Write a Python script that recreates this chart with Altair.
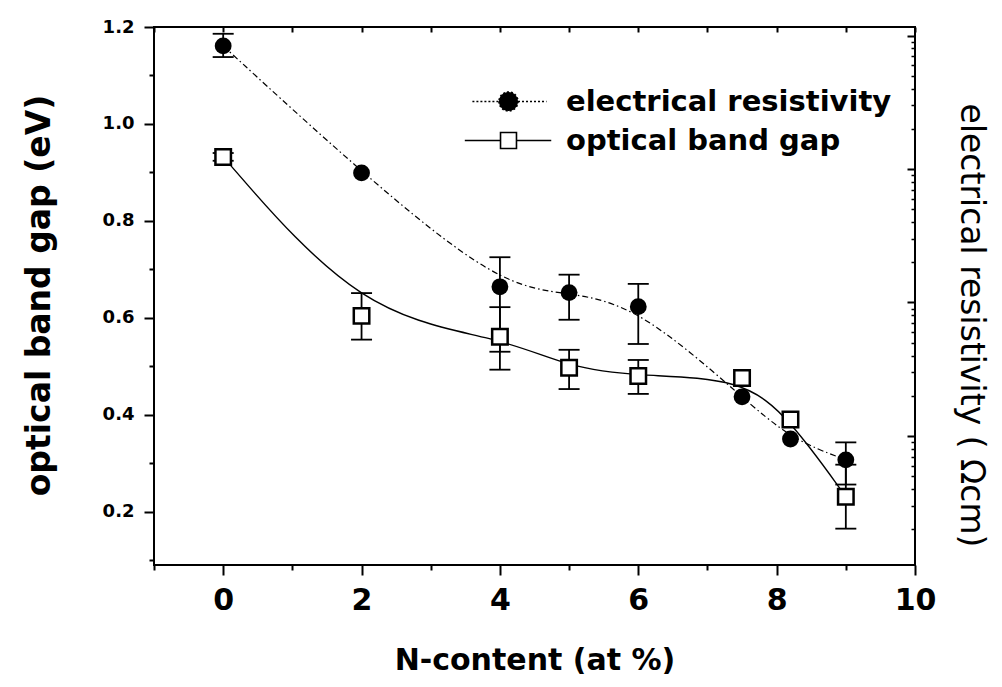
import altair as alt
import pandas as pd

# ---------------- data ----------------
series_names = ["electrical resistivity", "optical band gap"]

x_res = [0, 2, 4, 5, 6, 7.5, 8.2, 9]
resistivity = [1.161, 0.899, 0.664, 0.652, 0.623, 0.437, 0.350, 0.307]   # drawn in left-axis units

x_gap = [0, 2, 4, 5, 6, 7.5, 8.2, 9]
band_gap = [0.932, 0.604, 0.561, 0.497, 0.480, 0.476, 0.390, 0.231]

res_err_x = [0, 4, 5, 6, 9]
res_err_lo = [1.138, 0.530, 0.596, 0.546, 0.256]
res_err_hi = [1.186, 0.725, 0.689, 0.670, 0.343]

gap_err_x = [0, 2, 4, 5, 6, 9]
gap_err_lo = [0.924, 0.555, 0.493, 0.453, 0.443, 0.165]
gap_err_hi = [0.940, 0.651, 0.622, 0.534, 0.513, 0.297]

x_major = [0, 2, 4, 6, 8, 10]
x_minor = [-1, 1, 3, 5, 7, 9]
x_top = [-1, 0, 1, 2, 3, 4, 5, 6, 7, 8, 9, 10]
y_major = [0.2, 0.4, 0.6, 0.8, 1.0, 1.2]
y_minor = [0.1, 0.3, 0.5, 0.7, 0.9, 1.1]
r_major = [100, 1000, 10000, 100000]
r_minor = [m * d for d in [10, 100, 1000, 10000] for m in range(2, 10)]

X_DOM = [-1, 10]
Y_DOM = [0.09, 1.2]
R_DOM = [10.8, 115800]

W, H = 761, 538
FONT = "DejaVu Sans"

xs = alt.Scale(domain=X_DOM, nice=False, zero=False)
ys = alt.Scale(domain=Y_DOM, nice=False, zero=False)
rs = alt.Scale(type="log", domain=R_DOM, nice=False)

res_df = pd.DataFrame({"x": x_res, "y": resistivity})
gap_df = pd.DataFrame({"x": x_gap, "y": band_gap})
err_df = pd.DataFrame({"x": res_err_x + gap_err_x,
                       "lo": res_err_lo + gap_err_lo,
                       "hi": res_err_hi + gap_err_hi})
caps_df = pd.DataFrame({"x": (res_err_x + gap_err_x) * 2,
                        "y": res_err_lo + gap_err_lo + res_err_hi + gap_err_hi})


def X():
    return alt.X("x:Q", scale=xs, axis=None)


def Y(f="y"):
    return alt.Y(f"{f}:Q", scale=ys, axis=None)


gap_line = alt.Chart(gap_df).mark_line(
    interpolate="basis", color="black", strokeWidth=1.4
).encode(x=X(), y=Y())

res_line = alt.Chart(res_df).mark_line(
    interpolate="basis", color="black", strokeWidth=1.2, strokeDash=[6, 3, 1.5, 3]
).encode(x=X(), y=Y())

err_rule = alt.Chart(err_df).mark_rule(color="black", strokeWidth=1.8).encode(
    x=X(), y=Y("lo"), y2=alt.Y2("hi:Q")
)

err_caps = alt.Chart(caps_df).mark_tick(
    orient="horizontal", color="black", size=21, thickness=1.8, opacity=1
).encode(x=X(), y=Y())

gap_pts = alt.Chart(gap_df).mark_point(
    shape="square", size=240, filled=True, fill="white", stroke="black",
    strokeWidth=2.5, opacity=1
).encode(x=X(), y=Y())

res_pts = alt.Chart(res_df).mark_circle(size=283, color="black", opacity=1).encode(
    x=X(), y=Y()
)


# ---------------- axes (carried by invisible layers) ----------------
def x_axis_layer(vals, axis):
    return alt.Chart(pd.DataFrame({"v": vals})).mark_point(opacity=0).encode(
        x=alt.X("v:Q", scale=xs, axis=axis)
    )


def y_axis_layer(vals, axis, scale):
    return alt.Chart(pd.DataFrame({"v": vals})).mark_point(opacity=0).encode(
        y=alt.Y("v:Q", scale=scale, axis=axis)
    )


common = dict(domain=False, grid=False, tickColor="black", labelColor="black",
              titleColor="black")

ax_bottom = x_axis_layer(x_major, alt.Axis(
    orient="bottom", values=x_major, format="d", tickSize=10, tickWidth=2,
    labelFont=FONT, labelFontSize=30, labelFontWeight="bold", labelPadding=10,
    labelFlush=False, labelOverlap=False,
    title="N-content (at %)", titleFont=FONT, titleFontSize=30,
    titleFontWeight="bold", titleY=104, titleBaseline="alphabetic",
    **common))

ax_bottom_minor = x_axis_layer(x_minor, alt.Axis(
    orient="bottom", values=x_minor, tickSize=5, tickWidth=2, labels=False,
    title=None, **common))

# inward ticks along the top edge: a bottom-oriented axis moved up to the top
ax_top = x_axis_layer(x_top, alt.Axis(
    orient="bottom", offset=-H, values=x_top, tickSize=5, tickWidth=2,
    labels=False, title=None, **common))

ax_left = y_axis_layer(y_major, alt.Axis(
    orient="left", values=y_major, format=".1f", tickSize=10, tickWidth=2,
    labelFont=FONT, labelFontSize=18, labelFontWeight="bold", labelPadding=10,
    labelFlush=False, labelOverlap=False,
    title="optical band gap (eV)", titleFont=FONT, titleFontSize=33,
    titleFontWeight="bold", titleAngle=270, titleX=-115, titleY=268,
    titleAlign="center", titleBaseline="middle",
    **common), ys)

ax_left_minor = y_axis_layer(y_minor, alt.Axis(
    orient="left", values=y_minor, tickSize=5, tickWidth=2, labels=False,
    title=None, **common), ys)

# inward log ticks along the right edge: left-oriented axes moved to the right
ax_right = y_axis_layer(r_major, alt.Axis(
    orient="left", offset=-W, values=r_major, tickSize=8, tickWidth=2,
    labels=False, title=None, **common), rs)

ax_right_minor = y_axis_layer(r_minor, alt.Axis(
    orient="left", offset=-W, values=r_minor, tickSize=4, tickWidth=1.5,
    labels=False, title=None, **common), rs)

ax_right_title = y_axis_layer(r_major, alt.Axis(
    orient="right", values=r_major, ticks=False, labels=False,
    title="electrical resistivity ( \u03a9cm)", titleFont=FONT,
    titleFontSize=33, titleFontWeight="normal", titleAngle=90, titleX=55,
    titleY=298, titleAlign="center", titleBaseline="middle",
    **common), rs)

# ---------------- legend ----------------
circle_path = "M-3.8,0H-1M1,0H4M-1,0A1,1,0,1,0,1,0A1,1,0,1,0,-1,0Z"
square_path = "M-4.6,0H-0.84M0.84,0H4.5M-0.84,-0.84H0.84V0.84H-0.84Z"

leg = alt.Legend(
    orient="none", legendX=340, legendY=60, title=None, padding=0,
    labelFont=FONT, labelFontSize=29, labelFontWeight="bold", labelColor="black",
    labelOffset=43, labelLimit=600, symbolSize=361, symbolOffset=0,
    symbolStrokeWidth=1.6, symbolOpacity=1, rowPadding=9,
)

legend_df = pd.DataFrame({"series": series_names})
legend_layer = alt.Chart(legend_df).mark_point(
    opacity=0, color="black", filled=False
).encode(
    shape=alt.Shape("series:N", scale=alt.Scale(domain=series_names,
                                               range=[circle_path, square_path]),
                    legend=leg),
    fill=alt.Fill("series:N", scale=alt.Scale(domain=series_names,
                                             range=["black", "white"]),
                  legend=leg),
    stroke=alt.Stroke("series:N", scale=alt.Scale(domain=series_names,
                                                 range=["black", "black"]),
                      legend=leg),
    strokeDash=alt.StrokeDash("series:N", scale=alt.Scale(domain=series_names,
                                                         range=[[2, 2], [10, 0]]),
                              legend=leg),
)

chart = alt.layer(
    ax_bottom, ax_bottom_minor, ax_top, ax_left, ax_left_minor,
    ax_right, ax_right_minor, ax_right_title,
    gap_line, res_line, err_rule, err_caps, gap_pts, res_pts, legend_layer,
).resolve_scale(
    y="independent"
).resolve_axis(
    x="independent", y="independent"
).properties(
    width=W, height=H,
    autosize=alt.AutoSizeParams(type="none"),
    padding={"left": 154, "top": 27, "right": 87, "bottom": 122},
    background="white",
).configure_view(
    stroke="black", strokeWidth=2
)

chart.save("out.html", embed_options={"renderer": "svg", "actions": False})
